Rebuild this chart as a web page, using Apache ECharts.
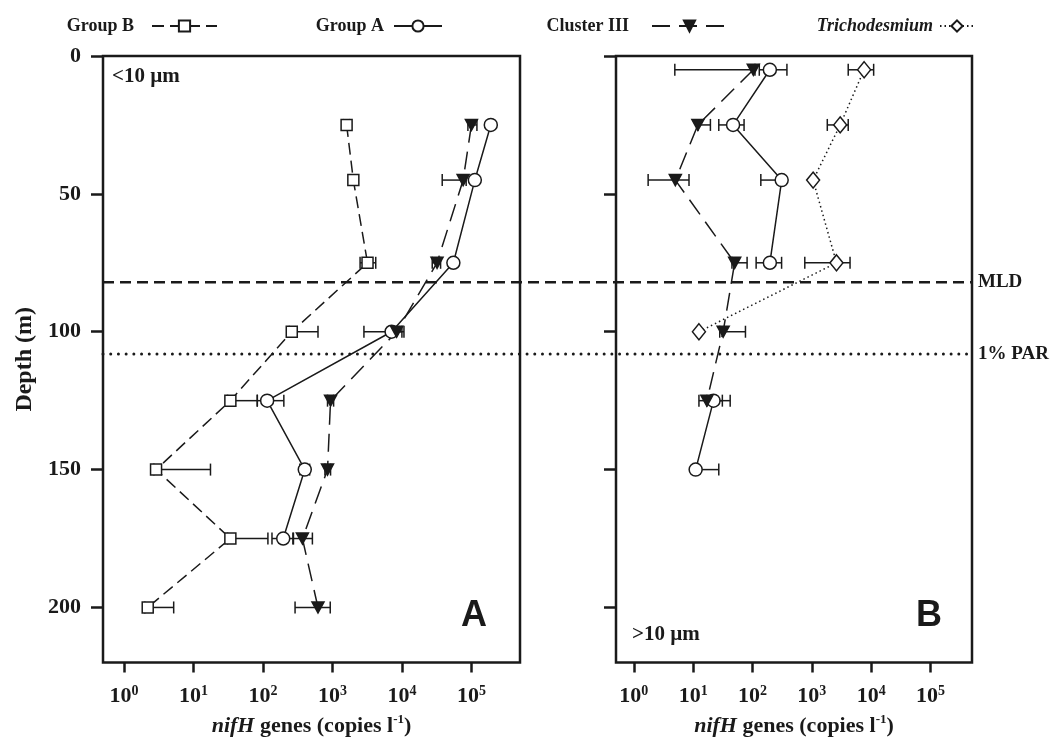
<!DOCTYPE html>
<html><head><meta charset="utf-8">
<script src="https://cdn.jsdelivr.net/npm/echarts@6/dist/echarts.min.js"></script>
<style>html,body{margin:0;padding:0;background:#fff}#c{width:1055px;height:742px}</style>
</head><body><div id="c"></div>
<script>
// ---- data ----
const depthTicks = [0, 50, 100, 150, 200];
const xTickExps = [0, 1, 2, 3, 4, 5];
const MLD = 82, PAR = 108;

const depthsA = [25, 45, 75, 100, 125, 150, 175, 200];
const groupB_A    = [1600, 2000, 3200, 260, 34, 2.9, 34, 2.2];
const groupB_A_lo = [1450, 1800, 2500, 240, 31, 2.7, 31, 2.0];
const groupB_A_hi = [1750, 2250, 4200, 620, 83, 17.6, 118, 5.2];
const groupA_A    = [190000, 112000, 55000, 7100, 115, 400, 196, null];
const groupA_A_lo = [175000, 100000, 50000, 2840, 83, 340, 135, null];
const groupA_A_hi = [205000, 124000, 60000, 10000, 200, 470, 275, null];
const clusterIII_A    = [100000, 76000, 32000, 8400, 940, 850, 370, 620];
const clusterIII_A_lo = [89000, 38000, 27300, 7500, 850, 780, 270, 290];
const clusterIII_A_hi = [120000, 84000, 36000, 10700, 1040, 940, 515, 930];

const depthsB = [5, 25, 45, 75, 100, 125, 150];
const groupA_B    = [196, 47, 310, 196, null, 22, 11];
const groupA_B_lo = [130, 27, 138, 115, null, 17, 11];
const groupA_B_hi = [380, 72, 310, 309, null, 42, 27];
const clusterIII_B    = [103, 12, 5, 50, 32, 17, null];
const clusterIII_B_lo = [4.9, 12, 1.74, 45, 28, 12.5, null];
const clusterIII_B_hi = [110, 19.5, 8.5, 81, 76, 31, null];
const tricho_B    = [7600, 3000, 1050, 2600, 12.5, null, null];
const tricho_B_lo = [4100, 1820, 1050, 760, 12.5, null, null];
const tricho_B_hi = [11000, 4100, 1050, 4400, 12.5, null, null];

// ---- helpers ----
const L = Math.log10;
const SERIF = 'Liberation Serif';
const INK = '#1a1a1a';
function lineData(depths, vals) {
  return depths.map((d, i) => vals[i] == null ? ['-', d] : [L(vals[i]), d]);
}
function errData(depths, vals, lo, hi) {
  return depths.map((d, i) => vals[i] == null ? null : [d, L(lo[i]), L(hi[i])])
    .filter(x => x && x[1] < x[2]);
}
function errSeries(idx, data) {
  return {
    type: 'custom', name: 'err', xAxisIndex: idx, yAxisIndex: idx, z: 1,
    encode: { x: [1, 2], y: 0 }, data: data, silent: true,
    renderItem: function (params, api) {
      const d = api.value(0), lo = api.value(1), hi = api.value(2);
      const p1 = api.coord([lo, d]), p2 = api.coord([hi, d]);
      const h = 6, st = { stroke: INK, lineWidth: 1.5 };
      return { type: 'group', children: [
        { type: 'line', shape: { x1: p1[0], y1: p1[1], x2: p2[0], y2: p2[1] }, style: st },
        { type: 'line', shape: { x1: p1[0], y1: p1[1] - h, x2: p1[0], y2: p1[1] + h }, style: st },
        { type: 'line', shape: { x1: p2[0], y1: p2[1] - h, x2: p2[0], y2: p2[1] + h }, style: st }
      ] };
    }
  };
}
const styles = {
  'Group B': { symbol: 'rect', symbolSize: 11, fill: '#fff', dash: [12, 6] },
  'Group A': { symbol: 'circle', symbolSize: 13, fill: '#fff', dash: 'solid' },
  'Cluster III': { symbol: 'triangle', symbolSize: [12, 11], rotate: 180, fill: INK, dash: [18, 9] },
  'Trichodesmium': { symbol: 'diamond', symbolSize: [13, 16], fill: '#fff', dash: [1.5, 3] }
};
function lineSeries(name, idx, data) {
  const s = styles[name];
  return {
    type: 'line', name: name, xAxisIndex: idx, yAxisIndex: idx, z: 3,
    data: data, connectNulls: false, symbol: s.symbol, symbolSize: s.symbolSize,
    symbolRotate: s.rotate || 0, showAllSymbol: true,
    lineStyle: { color: INK, width: 1.5, type: s.dash },
    itemStyle: { color: s.fill, borderColor: INK, borderWidth: 1.5, opacity: 1 },
    emphasis: { disabled: true }, animation: false
  };
}
const supRich = {
  b: { fontFamily: SERIF, fontWeight: 'bold', fontSize: 22, color: INK, lineHeight: 24 },
  s: { fontFamily: SERIF, fontWeight: 'bold', fontSize: 14, color: INK, verticalAlign: 'top', lineHeight: 24, padding: [0, 0, 10, 0] }
};
const nameRich = {
  i: { fontFamily: SERIF, fontWeight: 'bold', fontStyle: 'italic', fontSize: 22, color: INK },
  n: { fontFamily: SERIF, fontWeight: 'bold', fontSize: 22, color: INK },
  s: { fontFamily: SERIF, fontWeight: 'bold', fontSize: 13, color: INK, padding: [0, 0, 12, 0] }
};
function xAxis(idx) {
  return {
    gridIndex: idx, type: 'value', position: 'bottom', min: L(0.5), max: L(500000),
    axisLine: { show: false, onZero: false }, splitLine: { show: false },
    axisTick: { show: true, customValues: xTickExps, length: 10, lineStyle: { width: 2.5, color: INK } },
    axisLabel: { customValues: xTickExps, margin: 22, formatter: v => '{b|10}{s|' + v + '}', rich: supRich },
    name: '{i|nifH}{n| genes (copies l}{s|-1}{n|)}', nameLocation: 'middle', nameGap: 48,
    nameTextStyle: { rich: nameRich }
  };
}
function yAxis(idx, labels) {
  return {
    gridIndex: idx, type: 'value', position: 'left', inverse: true, min: 0, max: 220,
    axisLine: { show: false, onZero: false }, splitLine: { show: false },
    axisTick: { show: true, customValues: depthTicks, length: 12, lineStyle: { width: 2.5, color: INK } },
    axisLabel: { show: labels, customValues: depthTicks, margin: 22,
      fontFamily: SERIF, fontWeight: 'bold', fontSize: 22, color: INK },
    name: labels ? 'Depth (m)' : '', nameLocation: 'middle', nameGap: 66, nameRotate: 90,
    nameTextStyle: { fontFamily: SERIF, fontWeight: 'bold', fontSize: 24, color: INK }
  };
}
function legendItem(name, right, w, gap, italic) {
  return {
    data: [italic ? { name: name, textStyle: { fontStyle: 'italic' } } : name],
    right: right, top: 17, padding: 0, align: 'right', itemWidth: w, itemHeight: 14,
    selectedMode: false,
    textStyle: { fontFamily: SERIF, fontWeight: 'bold', fontSize: 18, color: INK, padding: [0, gap, 0, 0] }
  };
}

const chart = echarts.init(document.getElementById('c'), null, { renderer: 'canvas' });
const gridBase = { show: true, borderColor: INK, borderWidth: 2.5, backgroundColor: 'transparent', top: 56, height: 607 };
chart.setOption({
  animation: false,
  backgroundColor: '#fff',
  grid: [
    Object.assign({}, gridBase, { left: 103, width: 417 }),
    Object.assign({}, gridBase, { left: 616, width: 356 }),
    { show: false, left: 103, width: 869, top: 56, height: 607 }
  ],
  xAxis: [xAxis(0), xAxis(1), { gridIndex: 2, type: 'value', min: 0, max: 1, show: false }],
  yAxis: [yAxis(0, true), yAxis(1, false), { gridIndex: 2, type: 'value', inverse: true, min: 0, max: 220, show: false }],
  legend: [
    legendItem('Group B', 837, 65, 13),
    legendItem('Group A', 612, 48, 5),
    legendItem('Cluster III', 327, 75, 18),
    legendItem('Trichodesmium', 80, 34, 2, true)
  ],
  graphic: [
    { type: 'text', left: 112, top: 66, style: { text: '<10 µm', fontFamily: SERIF, fontWeight: 'bold', fontSize: 21, fill: INK } },
    { type: 'text', left: 632, top: 624, style: { text: '>10 µm', fontFamily: SERIF, fontWeight: 'bold', fontSize: 21, fill: INK } },
    { type: 'text', left: 461, top: 598, style: { text: 'A', fontFamily: 'Liberation Sans', fontWeight: 'bold', fontSize: 36, fill: INK } },
    { type: 'text', left: 916, top: 598, style: { text: 'B', fontFamily: 'Liberation Sans', fontWeight: 'bold', fontSize: 36, fill: INK } }
  ],
  series: [
    { type: 'line', name: 'MLD', xAxisIndex: 2, yAxisIndex: 2, z: 0, symbol: 'none', silent: true,
      data: [[0, MLD], [1, MLD]], lineStyle: { color: INK, width: 2.5, type: [11, 6] },
      endLabel: { show: true, formatter: 'MLD', distance: 6, fontFamily: SERIF, fontWeight: 'bold', fontSize: 19, color: INK } },
    { type: 'line', name: 'PAR', xAxisIndex: 2, yAxisIndex: 2, z: 0, symbol: 'none', silent: true,
      data: [[0, PAR], [1, PAR]], lineStyle: { color: INK, width: 3, type: [0.01, 7.7], cap: 'round' },
      endLabel: { show: true, formatter: '1% PAR', distance: 6, fontFamily: SERIF, fontWeight: 'bold', fontSize: 19, color: INK } },
    errSeries(0, errData(depthsA, groupB_A, groupB_A_lo, groupB_A_hi)),
    errSeries(0, errData(depthsA, groupA_A, groupA_A_lo, groupA_A_hi)),
    errSeries(0, errData(depthsA, clusterIII_A, clusterIII_A_lo, clusterIII_A_hi)),
    errSeries(1, errData(depthsB, groupA_B, groupA_B_lo, groupA_B_hi)),
    errSeries(1, errData(depthsB, clusterIII_B, clusterIII_B_lo, clusterIII_B_hi)),
    errSeries(1, errData(depthsB, tricho_B, tricho_B_lo, tricho_B_hi)),
    lineSeries('Group B', 0, lineData(depthsA, groupB_A)),
    lineSeries('Group A', 0, lineData(depthsA, groupA_A)),
    lineSeries('Cluster III', 0, lineData(depthsA, clusterIII_A)),
    lineSeries('Group A', 1, lineData(depthsB, groupA_B)),
    lineSeries('Cluster III', 1, lineData(depthsB, clusterIII_B)),
    lineSeries('Trichodesmium', 1, lineData(depthsB, tricho_B))
  ]
});
</script></body></html>
